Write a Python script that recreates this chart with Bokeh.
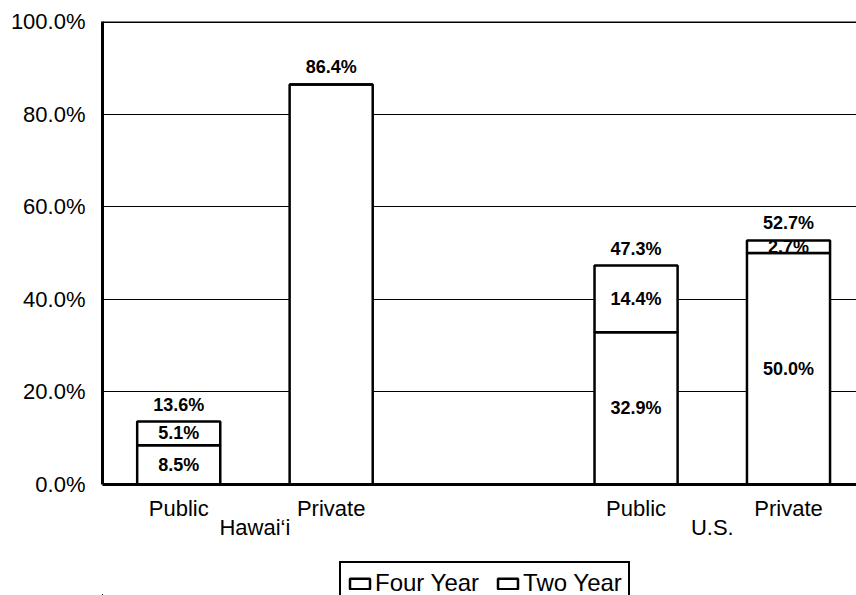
from bokeh.plotting import figure
from bokeh.layouts import column
from bokeh.models import (ColumnDataSource, Range1d, LinearAxis, FixedTicker,
                          Legend, LegendItem, Span, PrintfTickFormatter)
from bokeh.core.properties import value
from bokeh.embed import file_html
from bokeh.resources import INLINE

# ---- data ----
groups = ["Hawai\u2018i", "U.S."]
sectors = ["Public", "Private"]
series = ["Four Year", "Two Year"]
four_year = [8.5, 86.4, 32.9, 50.0]
two_year = [5.1, 0.0, 14.4, 2.7]
four_labels = ["8.5%", "", "32.9%", "50.0%"]
two_labels = ["5.1%", "", "14.4%", "2.7%"]
y_ticks = [0, 20, 40, 60, 80, 100]

FONT = "Liberation Sans"

# category positions: sectors within groups, one empty slot between groups
xs = []
xlabels = {}
group_centers = {}
for gi, g in enumerate(groups):
    base = gi * (len(sectors) + 1)
    for si, s in enumerate(sectors):
        xs.append(base + si)
        xlabels[base + si] = s
    group_centers[base + (len(sectors) - 1) / 2] = g

totals = [a + b for a, b in zip(four_year, two_year)]
total_labels = ["%.1f%%" % t for t in totals]

src = ColumnDataSource(dict(
    x=xs, four=four_year, two=two_year,
    four_mid=[f / 2 for f in four_year],
    two_mid=[f + t / 2 for f, t in zip(four_year, two_year)],
    total=totals, four_lab=four_labels, two_lab=two_labels, tot_lab=total_labels,
))

p = figure(width=856, height=545, output_backend="svg", toolbar_location=None,
           x_range=Range1d(-0.5, 4.446), y_range=Range1d(0, 100),
           min_border_left=102, min_border_top=21, min_border_right=0,
           min_border_bottom=61)
p.outline_line_color = None
p.background_fill_color = "white"
p.border_fill_color = "white"

rs = p.vbar_stack(["four", "two"], x="x", width=0.545, source=src,
                  fill_color="white", line_color="black", line_width=2.5)

# grid
p.xgrid.visible = False
p.ygrid.ticker = FixedTicker(ticks=y_ticks)
p.ygrid.grid_line_color = "black"
p.ygrid.grid_line_width = 1

# top border
p.add_layout(Span(location=100, dimension="width", line_color="black", line_width=3))

# y axis
ya = p.yaxis[0]
ya.ticker = FixedTicker(ticks=y_ticks)
ya.formatter = PrintfTickFormatter(format="%.1f%%")
ya.major_tick_out = 0
ya.major_tick_in = 0
ya.minor_tick_out = 0
ya.minor_tick_in = 0
ya.axis_line_width = 3
ya.axis_line_color = "black"
ya.major_label_standoff = 17
ya.major_label_text_font = FONT
ya.major_label_text_font_size = "22px"
ya.major_label_text_color = "black"

# x axis (sectors)
xa = p.xaxis[0]
xa.ticker = FixedTicker(ticks=xs)
xa.major_label_overrides = xlabels
xa.major_tick_out = 0
xa.major_tick_in = 0
xa.minor_tick_out = 0
xa.minor_tick_in = 0
xa.axis_line_width = 3
xa.axis_line_color = "black"
xa.major_label_standoff = 11
xa.major_label_text_font = FONT
xa.major_label_text_font_size = "22px"
xa.major_label_text_color = "black"

# group axis
ga = LinearAxis(ticker=FixedTicker(ticks=list(group_centers.keys())),
                major_label_overrides=group_centers)
ga.axis_line_color = None
ga.major_tick_out = 0
ga.major_tick_in = 0
ga.minor_tick_out = 0
ga.minor_tick_in = 0
ga.major_label_standoff = -9
ga.major_label_text_font = FONT
ga.major_label_text_font_size = "22px"
ga.major_label_text_color = "black"
p.add_layout(ga, "below")

# labels
common = dict(text_font=value(FONT), text_font_style="bold", text_font_size="18px",
              text_color="black", text_align="center", text_baseline="middle")
p.text(x="x", y="four_mid", text="four_lab", source=src, **common)
p.text(x="x", y="two_mid", text="two_lab", source=src, **common)
p.text(x="x", y="total", text="tot_lab", source=src, y_offset=-17, **common)

# ---- legend strip below the chart (same bar style; bars kept out of view) ----
lf = figure(width=856, height=50, output_backend="svg", toolbar_location=None,
            x_range=Range1d(10, 11), y_range=Range1d(200, 201),
            min_border=0, min_border_left=0, min_border_right=0,
            min_border_top=0, min_border_bottom=0)
lf.axis.visible = False
lf.xaxis.visible = False
lf.yaxis.visible = False
lf.grid.visible = False
lf.outline_line_color = None
lf.border_fill_color = "white"
lrs = lf.vbar_stack(["four", "two"], x="x", width=0.545, source=src,
                    fill_color="white", line_color="black", line_width=2.5)
items = [LegendItem(label=name, renderers=[r]) for name, r in zip(series, lrs)]

legend = Legend(items=items, orientation="horizontal", location=(237, -10))
legend.border_line_color = "black"
legend.border_line_alpha = 1.0
legend.border_line_width = 2.5
legend.background_fill_alpha = 1.0
legend.label_text_font = FONT
legend.label_text_font_size = "24px"
legend.label_text_color = "black"
legend.glyph_width = 25
legend.glyph_height = 13
legend.label_standoff = 3
legend.spacing = 16
legend.padding = 6
legend.margin = 0
legend.label_height = 26
lf.add_layout(legend, "center")

open("out.html", "w").write(file_html(column(p, lf, spacing=0), INLINE))
